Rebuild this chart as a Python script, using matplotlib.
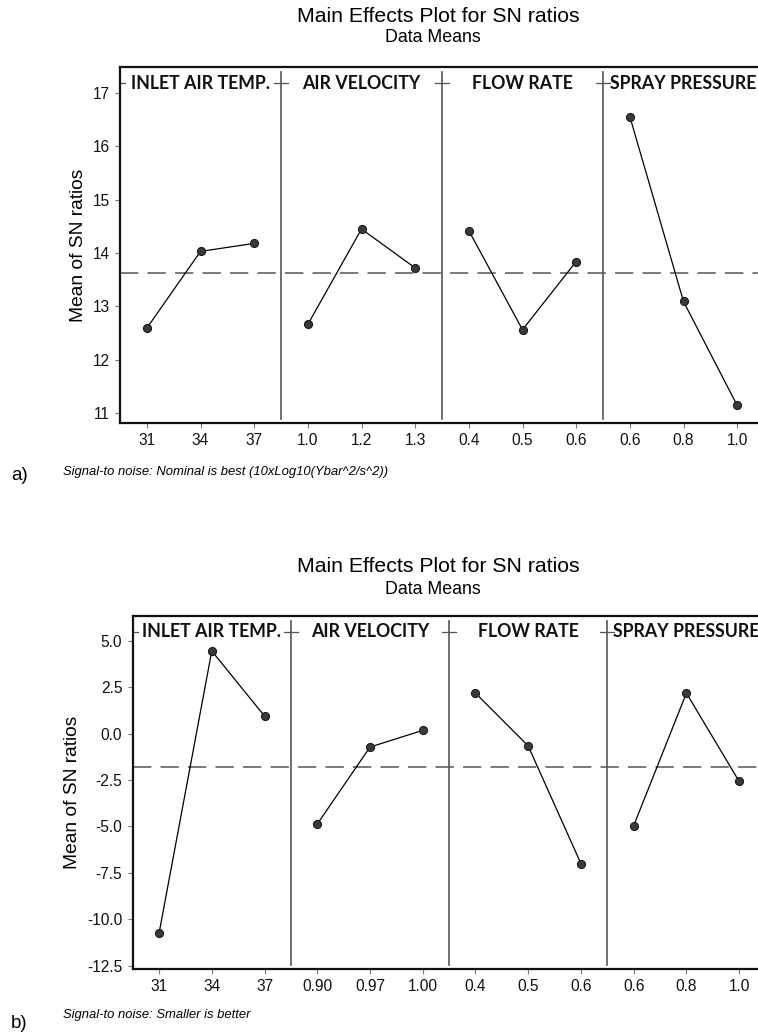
import matplotlib
matplotlib.use("Agg")
import matplotlib.pyplot as plt
import matplotlib.transforms as mtransforms

plt.rcParams['font.family'] = ['Liberation Sans', 'DejaVu Sans']

# ---- data ----
factors = ["INLET AIR TEMP.", "AIR VELOCITY", "FLOW RATE", "SPRAY PRESSURE"]

levels_a = [["31", "34", "37"], ["1.0", "1.2", "1.3"],
            ["0.4", "0.5", "0.6"], ["0.6", "0.8", "1.0"]]
sn_a = [[12.59, 14.03, 14.18],
        [12.66, 14.45, 13.72],
        [14.42, 12.56, 13.84],
        [16.56, 13.09, 11.14]]
mean_a = 13.62
yticks_a = [11, 12, 13, 14, 15, 16, 17]
note_a = "Signal-to noise: Nominal is best (10xLog10(Ybar^2/s^2))"

levels_b = [["31", "34", "37"], ["0.90", "0.97", "1.00"],
            ["0.4", "0.5", "0.6"], ["0.6", "0.8", "1.0"]]
sn_b = [[-10.75, 4.46, 0.95],
        [-4.87, -0.72, 0.18],
        [2.19, -0.66, -7.00],
        [-4.96, 2.19, -2.57]]
mean_b = -1.80
yticks_b = [-12.5, -10.0, -7.5, -5.0, -2.5, 0.0, 2.5, 5.0]
note_b = "Signal-to noise: Smaller is better"

W, H = 758, 1036
fig = plt.figure(figsize=(W / 100, H / 100), dpi=100)


def px_box(left, right, top, bottom):
    return [left / W, 1 - bottom / H, (right - left) / W, (bottom - top) / H]


def main_effects(ax, levels, values, mean, yticks, ylim, ytick_fmt):
    n = len(levels)
    xt, xl = [], []
    for i in range(n):
        xs = [3 * i + j for j in range(len(levels[i]))]
        ax.plot(xs, values[i], color='black', lw=0.9, marker='o', ms=5.8,
                mfc='#3a3a3a', mec='#1a1a1a', mew=0.8, zorder=4)
        xt += xs
        xl += levels[i]
    ax.set_xlim(-0.5, 3 * n - 0.5)
    ax.set_ylim(*ylim)
    ax.axhline(mean, color='#555555', lw=1.1, dashes=(12, 6), zorder=2)
    trans = mtransforms.blended_transform_factory(ax.transData, ax.transAxes)
    for i in range(1, n):
        ax.axvline(3 * i - 0.5, ymin=0.01, ymax=0.985, color='#555555', lw=1.2, zorder=1)
        ax.plot([3 * i - 0.63, 3 * i - 0.37], [0.955, 0.955], color='#555555',
                lw=0.9, transform=trans, zorder=1)
    ax.plot([-0.5, -0.4], [0.955, 0.955], color='#555555', lw=0.9, transform=trans)
    for i, name in enumerate(factors):
        ax.text(3 * i + 1, 0.955, name, transform=trans, ha='center', va='center',
                family='Lato', fontweight='bold', fontsize=12.8, color='#111111',
                zorder=5)
    ax.set_xticks(xt)
    ax.set_xticklabels(xl)
    ax.set_yticks(yticks)
    ax.set_yticklabels([ytick_fmt % v for v in yticks])
    ax.tick_params(axis='both', direction='out', length=3.5, width=0.8,
                   color='#777777', labelsize=11.2, pad=4, labelcolor='#111111')
    for s in ax.spines.values():
        s.set_linewidth(1.6)
        s.set_color('#111111')
    ax.set_ylabel("Mean of SN ratios", fontsize=13.8)


# ---- a) ----
ax1 = fig.add_axes(px_box(120, 764, 67, 423))
main_effects(ax1, levels_a, sn_a, mean_a, yticks_a, (10.81, 17.49), "%d")
ax1.yaxis.set_label_coords(-0.052, 0.5)
fig.text(438 / W, 1 - 17 / H, "Main Effects Plot for SN ratios", ha='center',
         va='center', fontsize=15.3)
fig.text(433 / W, 1 - 37 / H, "Data Means", ha='center', va='center', fontsize=12.8)
fig.text(63 / W, 1 - 471.5 / H, note_a, ha='left', va='center', fontsize=9.4,
         style='italic')
fig.text(11 / W, 1 - 476 / H, "a)", ha='left', va='center', fontsize=13.5)

# ---- b) ----
ax2 = fig.add_axes(px_box(132.7, 765.5, 615.7, 969))
main_effects(ax2, levels_b, sn_b, mean_b, yticks_b, (-12.68, 6.36), "%.1f")
ax2.yaxis.set_label_coords(-0.082, 0.5)
fig.text(438 / W, 1 - 566.5 / H, "Main Effects Plot for SN ratios", ha='center',
         va='center', fontsize=15.3)
fig.text(433 / W, 1 - 589 / H, "Data Means", ha='center', va='center', fontsize=12.8)
fig.text(63 / W, 1 - 1015 / H, note_b, ha='left', va='center', fontsize=9.4,
         style='italic')
fig.text(11 / W, 1 - 1023 / H, "b)", ha='left', va='center', fontsize=13.5)

fig.savefig("out.png", dpi=100)
